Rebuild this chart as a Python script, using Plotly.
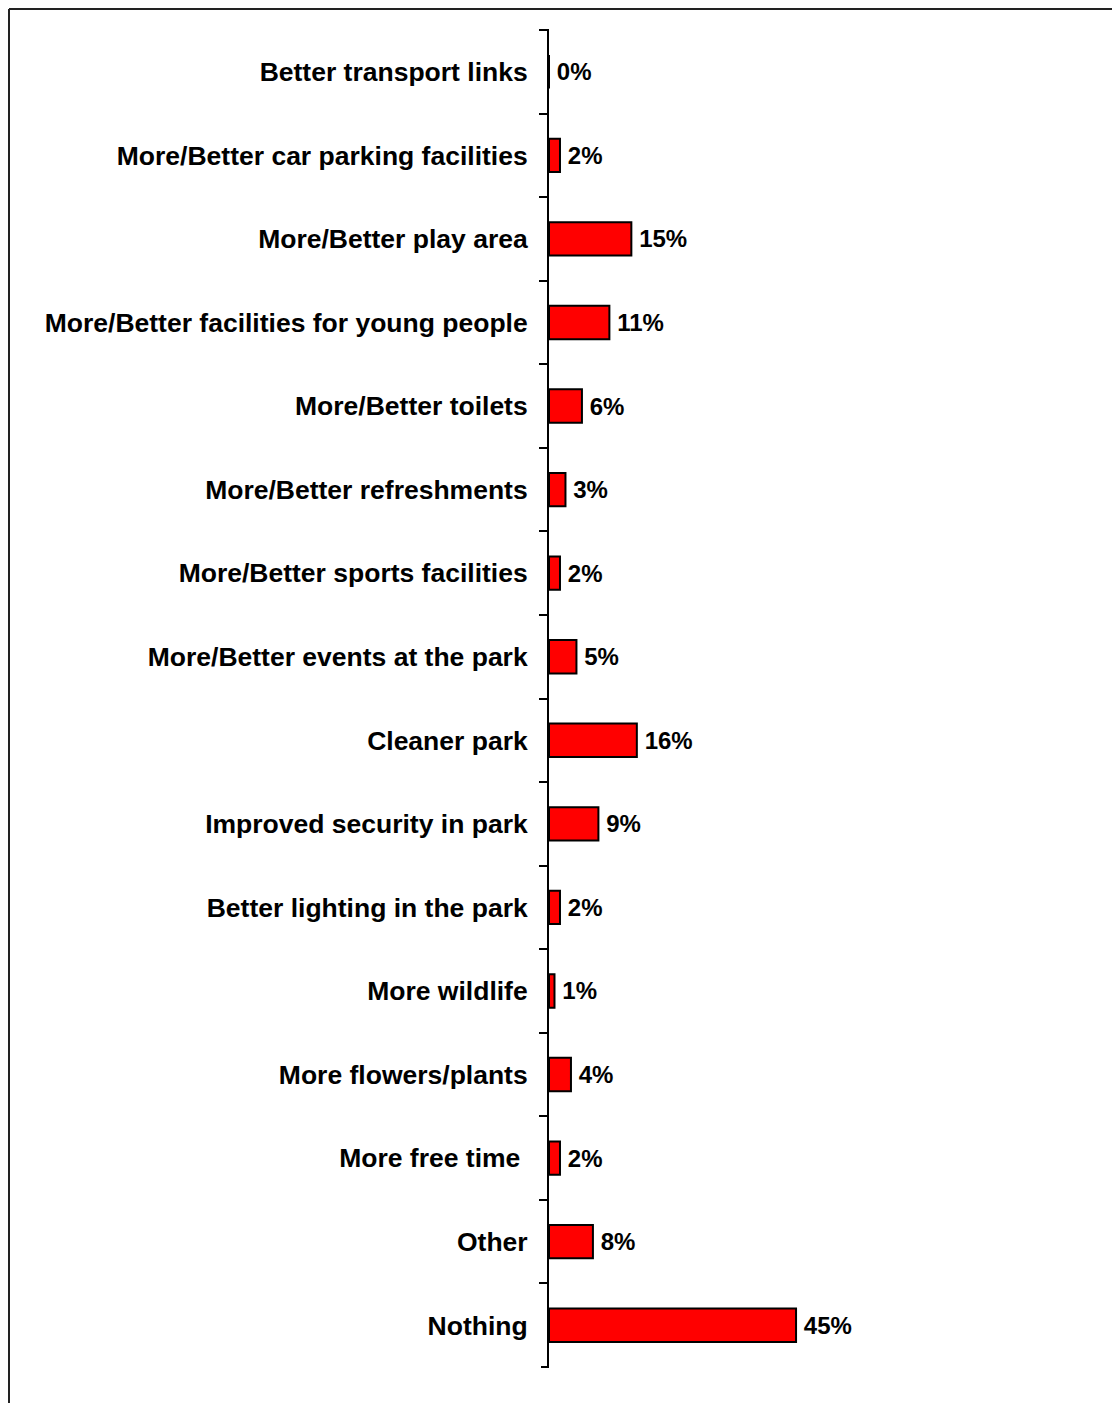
import plotly.graph_objects as go

categories = [
    "Better transport links",
    "More/Better car parking facilities",
    "More/Better play area",
    "More/Better facilities for young people",
    "More/Better toilets",
    "More/Better refreshments",
    "More/Better sports facilities",
    "More/Better events at the park",
    "Cleaner park",
    "Improved security in park",
    "Better lighting in the park",
    "More wildlife",
    "More flowers/plants",
    "More free time\u00a0",
    "Other",
    "Nothing",
]
values = [0, 2, 15, 11, 6, 3, 2, 5, 16, 9, 2, 1, 4, 2, 8, 45]
value_labels = [f"\u2009{v}%" for v in values]

OFF = 8  # page body margin
W, H = 1120 - OFF, 1403 - OFF
L, R, T, B = 549 - OFF, 22, 30 - OFF, 36
pw = W - L - R
ph = H - T - B
TICKLEN = 8

fig = go.Figure()
fig.add_trace(go.Bar(
    y=categories, x=values, orientation="h",
    marker=dict(color="#FF0000", line=dict(color="black", width=2)),
    text=value_labels, textposition="outside", cliponaxis=False,
    textfont=dict(family="Liberation Sans, Arial, sans-serif", size=24, color="black", weight="bold"),
    hoverinfo="skip",
))

def px_x(p):
    return (p - OFF - L) / pw

def px_y(p):
    return (H - B - (p - OFF)) / ph

frame = dict(color="#222222", width=2)
fig.add_shape(type="line", xref="paper", yref="paper",
              x0=px_x(9), x1=px_x(1125), y0=px_y(9), y1=px_y(9), line=frame)
fig.add_shape(type="line", xref="paper", yref="paper",
              x0=px_x(9), x1=px_x(9), y0=px_y(9), y1=px_y(1410), line=frame)
# end ticks of the category axis (top and bottom boundaries)
for yy in (0, 1):
    fig.add_shape(type="line", xref="paper", yref="paper",
                  x0=-TICKLEN / pw, x1=0, y0=yy, y1=yy,
                  line=dict(color="black", width=2))

n = len(categories)
fig.update_layout(
    width=W, height=H,
    margin=dict(l=L, r=R, t=T, b=B, pad=0),
    paper_bgcolor="white", plot_bgcolor="white",
    bargap=0.6, showlegend=False,
    font=dict(family="Liberation Sans, Arial, sans-serif", color="black"),
    xaxis=dict(range=[0, 100], visible=False, fixedrange=True),
    yaxis=dict(
        type="category", range=[n - 0.5, -0.5],
        showline=True, linecolor="black", linewidth=2,
        ticks="outside", ticklen=TICKLEN, tickwidth=2, tickcolor="black",
        tickson="boundaries", showgrid=False, zeroline=False,
        ticklabelstandoff=14,
        tickfont=dict(family="Liberation Sans, Arial, sans-serif", size=26.5, color="black", weight="bold"),
    ),
)

fig.write_html("out.html")
